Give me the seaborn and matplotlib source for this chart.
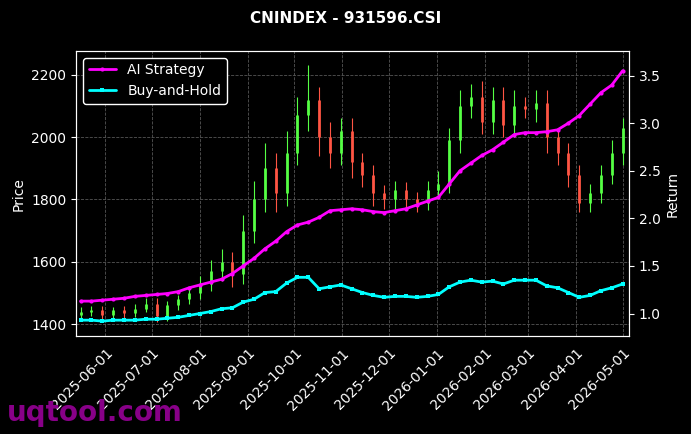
import matplotlib
matplotlib.use("Agg")
import matplotlib.pyplot as plt
import matplotlib.dates as mdates
import seaborn as sns
import pandas as pd
import numpy as np

dates = pd.date_range("2025-05-16", "2026-05-01", freq="W-FRI")
close = [1440,1445,1430,1445,1435,1450,1465,1425,1460,1480,1500,1530,1570,1600,1560,1700,1800,1900,1820,1950,
         2070,2120,2000,1950,2020,1920,1880,1820,1800,1830,1800,1790,1830,1850,1990,2100,2130,2050,2120,2040,
         2100,2090,2110,2000,1950,1880,1790,1820,1880,1950,2030]
open_ = [1430] + close[:-1]
high_pad = [15,12,14,10,12,15,20,18,15,14,20,25,35,40,30,50,60,80,50,70,
            60,110,40,50,40,40,30,30,25,30,25,25,30,40,40,50,40,50,40,40,
            50,30,40,40,30,30,30,30,30,40,30]
low_pad = [15,14,12,14,15,12,12,18,14,14,15,20,25,30,40,30,40,40,60,40,
           40,50,60,50,40,50,40,40,30,30,30,30,25,30,30,40,40,40,40,40,
           40,30,40,50,40,40,30,30,30,30,40]
strategy = [1.13,1.13,1.14,1.15,1.16,1.18,1.19,1.20,1.21,1.23,1.27,1.30,1.33,1.36,1.42,1.50,1.58,1.68,1.76,1.86,
            1.93,1.96,2.01,2.08,2.09,2.10,2.09,2.07,2.06,2.08,2.10,2.14,2.18,2.22,2.36,2.50,2.58,2.66,2.72,2.80,
            2.88,2.90,2.90,2.91,2.93,3.00,3.08,3.20,3.32,3.40,3.55]
buyhold = [0.93,0.93,0.92,0.93,0.93,0.93,0.94,0.94,0.95,0.96,0.98,1.00,1.02,1.05,1.06,1.12,1.15,1.22,1.23,1.32,
           1.38,1.38,1.26,1.28,1.30,1.26,1.22,1.19,1.17,1.18,1.18,1.17,1.18,1.20,1.28,1.33,1.35,1.33,1.34,1.31,
           1.35,1.35,1.35,1.29,1.27,1.22,1.17,1.19,1.24,1.27,1.31]

df = pd.DataFrame({"date": dates, "open": open_, "close": close,
                   "high": np.maximum(open_, close) + np.array(high_pad),
                   "low": np.minimum(open_, close) - np.array(low_pad),
                   "AI Strategy": strategy, "Buy-and-Hold": buyhold})

sns.set_style("dark", {"axes.facecolor": "black", "figure.facecolor": "black"})
plt.rcParams.update({"text.color": "white", "axes.labelcolor": "white",
                     "xtick.color": "white", "ytick.color": "white",
                     "axes.edgecolor": "white"})
plt.rcParams['font.family'] = ['DejaVu Sans']

fig, ax = plt.subplots(figsize=(6.91, 4.34), dpi=100)
fig.subplots_adjust(left=0.11, right=0.91, top=0.883, bottom=0.225)
ax.set_facecolor("black")
ax.grid(True, color="#555555", linestyle="--", linewidth=0.6)

up = df["close"] >= df["open"]
cols = np.where(up, "#55ff44", "#ff5544")
ax.vlines(df["date"], df["low"], df["high"], colors=cols, linewidth=0.8)
ax.vlines(df["date"], np.minimum(df["open"], df["close"]), np.maximum(df["open"], df["close"]),
          colors=cols, linewidth=2.0)
ax.set_ylim(1361, 2277)
ax.set_xlim(pd.Timestamp("2025-05-13"), pd.Timestamp("2026-05-05"))
ax.set_ylabel("Price")
ax.set_yticks([1400, 1600, 1800, 2000, 2200])

ax2 = ax.twinx()
sns.lineplot(data=df, x="date", y="AI Strategy", ax=ax2, color="magenta", linewidth=2,
             marker="o", markersize=3, markeredgewidth=0, label="AI Strategy", legend=False)
sns.lineplot(data=df, x="date", y="Buy-and-Hold", ax=ax2, color="cyan", linewidth=2,
             marker="s", markersize=3, markeredgewidth=0, label="Buy-and-Hold", legend=False)
ax2.set_ylim(0.76, 3.76)
ax2.set_ylabel("Return")
ax2.set_xlabel("")
ax2.set_yticks([1.0, 1.5, 2.0, 2.5, 3.0, 3.5])
ax2.grid(False)
for sp in ax2.spines.values():
    sp.set_color("white")

ticks = pd.date_range("2025-06-01", "2026-05-01", freq="MS")
ax.set_xticks(ticks)
ax.xaxis.set_major_formatter(mdates.DateFormatter("%Y-%m-%d"))
for lbl in ax.get_xticklabels():
    lbl.set_rotation(45); lbl.set_ha("right"); lbl.set_rotation_mode("anchor")
ax.tick_params(axis="x", labelsize=10)

leg = ax2.legend(loc="upper left", facecolor="black", edgecolor="white", framealpha=1)
for t in leg.get_texts():
    t.set_color("white")

fig.suptitle("CNINDEX - 931596.CSI", fontweight="bold", fontsize=11, y=0.975)
fig.text(0.01, 0.03, "uqtool.com", color="#880088", fontsize=20, fontweight="bold")
fig.savefig("out.png", dpi=100, facecolor="black")
